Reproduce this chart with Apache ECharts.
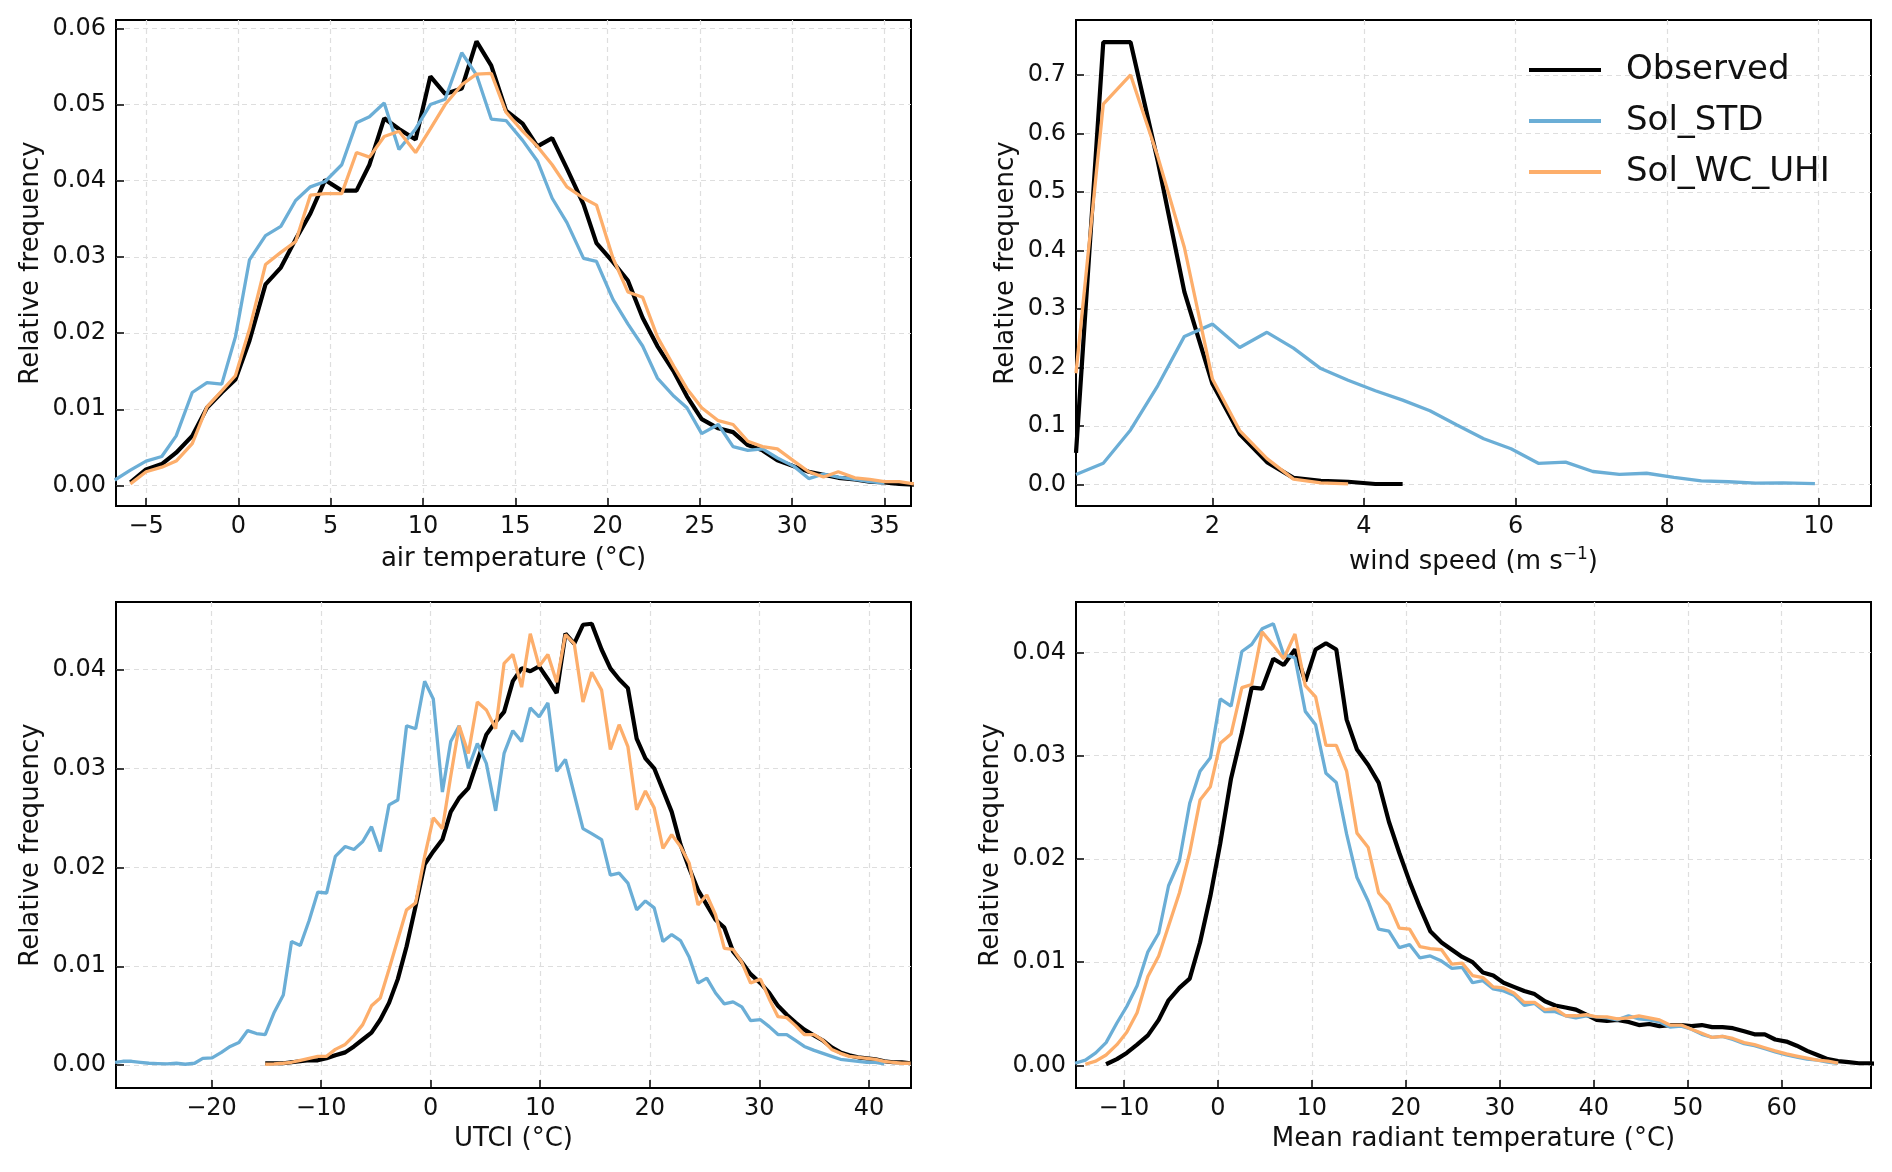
<!DOCTYPE html>
<html>
<head>
<meta charset="utf-8">
<script src="https://cdn.jsdelivr.net/npm/echarts@6/dist/echarts.min.js"></script>
<style>
  html, body { margin: 0; padding: 0; background: #fff; }
  #chart { width: 1892px; height: 1172px; }
</style>
</head>
<body>
<div id="chart"></div>
<script>
// air temperature histogram (bin centres, °C)
const airX = [-6.7, -5.85, -5.0, -4.15, -3.37, -2.5, -1.7, -0.9, -0.16, 0.6, 1.47, 2.3, 3.1, 3.9, 4.7, 5.6, 6.4, 7.1, 7.9, 8.7,
  9.6, 10.4, 11.2, 12.1, 12.9, 13.7, 14.5, 15.4, 16.2, 17.0, 17.8, 18.7, 19.4, 20.3, 21.1, 21.9, 22.7, 23.6, 24.3, 25.1,
  26.0, 26.8, 27.6, 28.4, 29.2, 30.1, 30.9, 31.7, 32.5, 33.4, 34.2, 35.0, 35.8, 36.6];
const airObs = [null, 0.0004, 0.0021, 0.0028, 0.0043, 0.0065, 0.0102, 0.0122, 0.0139, 0.019, 0.0264, 0.0286, 0.0323, 0.0357,
  0.0401, 0.0387, 0.0387, 0.0421, 0.0482, 0.0468, 0.0454, 0.0537, 0.0514, 0.0521, 0.0583, 0.0551, 0.0492, 0.0475, 0.0445,
  0.0456, 0.0416, 0.0369, 0.0318, 0.0293, 0.0269, 0.022, 0.0183, 0.0149, 0.0117, 0.0087, 0.0075, 0.007, 0.0053, 0.0046,
  0.0033, 0.0025, 0.0018, 0.0014, 0.001, 0.0008, 0.0005, 0.0004, 0.0002, 0.0001];
const airStd = [0.0007, 0.002, 0.0032, 0.0038, 0.0065, 0.0122, 0.0135, 0.0133, 0.0195, 0.0296, 0.0328, 0.034, 0.0374, 0.0392,
  0.0399, 0.0421, 0.0476, 0.0484, 0.0502, 0.0441, 0.0468, 0.05, 0.0507, 0.0568, 0.0539, 0.0481, 0.0479, 0.0453, 0.0426,
  0.0377, 0.0345, 0.0298, 0.0294, 0.0244, 0.0212, 0.0183, 0.0141, 0.0117, 0.0102, 0.0068, 0.008, 0.0051, 0.0046, 0.0048,
  0.0036, 0.0025, 0.0009, 0.0015, 0.0011, 0.0008, 0.0005, 0.0003, null, null];
const airWc = [null, 0.0002, 0.0018, 0.0024, 0.0032, 0.0055, 0.0103, 0.0124, 0.0144, 0.0205, 0.029, 0.0306, 0.032, 0.0381,
  0.0383, 0.0383, 0.0437, 0.0431, 0.0458, 0.0465, 0.0437, 0.0468, 0.05, 0.0526, 0.054, 0.0541, 0.049, 0.0465, 0.0445,
  0.0421, 0.0392, 0.0377, 0.0368, 0.0298, 0.0254, 0.0247, 0.0195, 0.0156, 0.0127, 0.0102, 0.0085, 0.008, 0.0058, 0.0051,
  0.0048, 0.0032, 0.0018, 0.0011, 0.0018, 0.001, 0.0008, 0.0005, 0.0005, 0.0002];

// wind speed (m/s)
const windX = [0.2, 0.56, 0.92, 1.28, 1.63, 2.0, 2.36, 2.72, 3.07, 3.43, 3.79, 4.15, 4.51, 4.87, 5.22, 5.58, 5.94, 6.3,
  6.66, 7.02, 7.37, 7.73, 8.09, 8.45, 8.81, 9.17, 9.53, 9.95];
const windObs = [0.054, 0.756, 0.756, 0.552, 0.329, 0.172, 0.086, 0.038, 0.011, 0.006, 0.0045, 0.0006, 0.0006];
const windStd = [0.017, 0.036, 0.093, 0.169, 0.253, 0.274, 0.234, 0.26, 0.233, 0.198, 0.178, 0.16, 0.144, 0.126, 0.102,
  0.078, 0.061, 0.036, 0.038, 0.022, 0.017, 0.019, 0.012, 0.006, 0.0045, 0.002, 0.0026, 0.0013];
const windWc = [0.19, 0.65, 0.70, 0.56, 0.405, 0.18, 0.092, 0.044, 0.009, 0.0026, 0.001];

// UTCI (°C)
const utciX = [-28.8, -28.1, -27.3, -26.5, -25.7, -24.9, -24.05, -23.2, -22.4, -21.55, -20.8, -19.95, -19.1, -18.3, -17.5,
  -16.7, -15.9, -15.1, -14.3, -13.45, -12.7, -11.9, -11.1, -10.3, -9.5, -8.7, -7.8, -7.0, -6.2, -5.4, -4.6, -3.8, -3.0,
  -2.2, -1.37, -0.55, 0.24, 1.07, 1.83, 2.6, 3.44, 4.26, 5.08, 5.93, 6.7, 7.5, 8.3, 9.09, 9.9, 10.7, 11.5, 12.3, 13.1,
  13.9, 14.7, 15.6, 16.4, 17.2, 18.0, 18.8, 19.6, 20.4, 21.2, 22.0, 22.8, 23.6, 24.4, 25.2, 26.0, 26.8, 27.6, 28.4, 29.2,
  30.1, 30.9, 31.7, 32.5, 33.3, 34.1, 35.0, 35.8, 36.6, 37.4, 38.2, 39.0, 39.8, 40.6, 41.4, 42.2, 43.0, 43.8];
const utciObs = [null, null, null, null, null, null, null, null, null, null, null, null, null, null, null, null, null,
  0.0002, 0.0002, 0.0002, 0.0003, 0.0004, 0.0005, 0.0005, 0.0007, 0.001, 0.0013, 0.0019, 0.0026, 0.0033, 0.0046, 0.0063,
  0.0087, 0.012, 0.0161, 0.0203, 0.0216, 0.0228, 0.0256, 0.027, 0.028, 0.0307, 0.0334, 0.0347, 0.0357, 0.0388,
  0.0401, 0.0398, 0.0403, 0.039, 0.0376, 0.0436, 0.0426, 0.0445, 0.0446, 0.042, 0.0401, 0.039, 0.0381, 0.033, 0.031,
  0.03, 0.0278, 0.0256, 0.0223, 0.0199, 0.0177, 0.0162, 0.0147, 0.0139, 0.0115, 0.0104, 0.0092, 0.0083, 0.0073, 0.006,
  0.0051, 0.0043, 0.0036, 0.003, 0.0025, 0.0018, 0.0013, 0.001, 0.0008, 0.0007, 0.0006, 0.0004, 0.0003, 0.0003, 0.0002];
const utciStd = [0.0003, 0.0004, 0.0004, 0.0003, 0.0002, 0.00017, 0.00013, 0.0002, 0.0001, 0.0002, 0.0007, 0.00074, 0.0013,
  0.0019, 0.0023, 0.0035, 0.0032, 0.0031, 0.0053, 0.0071, 0.0125, 0.0121, 0.0146, 0.0175, 0.0174, 0.0211, 0.0221, 0.0218,
  0.0226, 0.0241, 0.0216, 0.0263, 0.0268, 0.0343, 0.034, 0.0388, 0.037, 0.0276, 0.0327, 0.0343, 0.03, 0.0325, 0.0305,
  0.0257, 0.0315, 0.0338, 0.0327, 0.0361, 0.0352, 0.0366, 0.0297, 0.0309, 0.0274, 0.0239, 0.0234, 0.0228, 0.0192, 0.0194,
  0.0184, 0.0157, 0.0166, 0.0159, 0.0125, 0.0132, 0.0126, 0.0109, 0.0083, 0.0088, 0.0073, 0.0062, 0.0064, 0.0059, 0.0045,
  0.0046, 0.0039, 0.0031, 0.0031, 0.0025, 0.0019, 0.0015, 0.0012, 0.0009, 0.0006, 0.0005, 0.0004, 0.0003, 0.0003, 0.00013,
  null, null, null];
const utciWc = [null, null, null, null, null, null, null, null, null, null, null, null, null, null, null, null, null,
  0.0001, 0.00013, 0.0002, 0.0003, 0.0005, 0.0007, 0.0009, 0.0009, 0.0016, 0.0021, 0.003, 0.0041, 0.006, 0.0068, 0.0097,
  0.0127, 0.0157, 0.0164, 0.0211, 0.025, 0.0239, 0.0292, 0.0343, 0.0315, 0.0367, 0.0359, 0.034, 0.0406, 0.0415,
  0.0382, 0.0436, 0.0403, 0.0415, 0.0387, 0.0435, 0.0426, 0.0367, 0.0397, 0.0379, 0.0319, 0.0344, 0.0322, 0.0258, 0.0277,
  0.026, 0.0219, 0.0233, 0.0221, 0.0204, 0.0162, 0.0172, 0.0152, 0.0118, 0.0117, 0.0104, 0.0083, 0.0087, 0.0067, 0.0049,
  0.0048, 0.004, 0.0031, 0.0031, 0.0025, 0.0016, 0.0012, 0.0009, 0.0008, 0.0007, 0.0006, 0.0004, 0.0003, 0.0002, 0.0002];

// mean radiant temperature (°C)
const mrtX = [-15.2, -14.1, -13.0, -11.9, -10.75, -9.7, -8.6, -7.45, -6.3, -5.25, -4.1, -3.0, -1.9, -0.8, 0.25, 1.4, 2.55,
  3.6, 4.7, 5.9, 7.0, 8.2, 9.3, 10.4, 11.5, 12.6, 13.7, 14.8, 16.0, 17.1, 18.2, 19.3, 20.4, 21.5, 22.6, 23.8, 24.9, 26.0,
  27.1, 28.2, 29.3, 30.4, 31.5, 32.6, 33.7, 34.8, 35.9, 37.0, 38.1, 39.2, 40.3, 41.4, 42.5, 43.7, 44.8, 45.9, 47.0, 48.1,
  49.3, 50.4, 51.5, 52.6, 53.7, 54.8, 56.0, 57.1, 58.2, 59.3, 60.5, 61.6, 62.7, 63.8, 64.9, 66.0, 67.1, 68.2, 69.3, 70.4];
const mrtObs = [null, null, null, 0.0001, 0.0006, 0.0012, 0.002, 0.0029, 0.0044, 0.0063, 0.0075, 0.0084, 0.0119, 0.0164,
  0.0215, 0.0278, 0.0322, 0.0366, 0.0365, 0.0394, 0.0388, 0.0403, 0.0372, 0.0403, 0.0409, 0.0403, 0.0335, 0.0306, 0.0291,
  0.0274, 0.0236, 0.0206, 0.0178, 0.0153, 0.013, 0.0119, 0.0112, 0.0105, 0.01, 0.009, 0.0087, 0.008, 0.0076, 0.0072,
  0.0069, 0.0062, 0.0058, 0.0056, 0.0054, 0.0049, 0.0044, 0.0043, 0.0044, 0.0042, 0.0039, 0.004, 0.0038, 0.0039, 0.0039,
  0.0038, 0.0039, 0.0037, 0.0037, 0.0036, 0.0033, 0.003, 0.003, 0.0025, 0.0023, 0.0019, 0.0014, 0.001, 0.0006, 0.0004,
  0.0003, 0.0002, 0.0002, 0.0001];
const mrtStd = [0.0002, 0.0005, 0.0012, 0.0022, 0.0041, 0.0057, 0.0077, 0.011, 0.0128, 0.0174, 0.0198, 0.0254, 0.0285,
  0.0298, 0.0355, 0.0348, 0.0401, 0.0408, 0.0423, 0.0428, 0.0398, 0.0395, 0.0343, 0.033, 0.0283, 0.0274, 0.0224, 0.0182,
  0.0159, 0.0132, 0.013, 0.0114, 0.0117, 0.0104, 0.0106, 0.0101, 0.0094, 0.0095, 0.008, 0.0082, 0.0074, 0.0072, 0.0068,
  0.0058, 0.006, 0.0052, 0.0052, 0.0048, 0.0046, 0.0048, 0.0047, 0.0046, 0.0044, 0.0048, 0.0045, 0.0044, 0.0042, 0.0037,
  0.0038, 0.0035, 0.003, 0.0027, 0.0028, 0.0025, 0.0021, 0.0019, 0.0016, 0.0013, 0.001, 0.0008, 0.0006, 0.0005, 0.0003,
  0.0002, null, null, null, null];
const mrtWc = [null, 0.0001, 0.0004, 0.001, 0.002, 0.0032, 0.0051, 0.0086, 0.0106, 0.0135, 0.0167, 0.0206, 0.0257, 0.027,
  0.0312, 0.0321, 0.0366, 0.0369, 0.042, 0.0407, 0.0394, 0.0418, 0.0368, 0.0357, 0.031, 0.031, 0.0285, 0.0225, 0.0211,
  0.0167, 0.0156, 0.0133, 0.0132, 0.0115, 0.0113, 0.0112, 0.0098, 0.0099, 0.0087, 0.0085, 0.0076, 0.0075, 0.007, 0.0061,
  0.0061, 0.0054, 0.0055, 0.0048, 0.0048, 0.0049, 0.0047, 0.0047, 0.0045, 0.0046, 0.0048, 0.0046, 0.0044, 0.0039, 0.0039,
  0.0035, 0.0031, 0.0027, 0.0028, 0.0026, 0.0022, 0.002, 0.0017, 0.0014, 0.0011, 0.0009, 0.0007, 0.0005, 0.0004, 0.0002,
  null, null, null, null];

// tick positions
const airXTicks = [-5, 0, 5, 10, 15, 20, 25, 30, 35];
const airYTicks = [0, 0.01, 0.02, 0.03, 0.04, 0.05, 0.06];
const windXTicks = [2, 4, 6, 8, 10];
const windYTicks = [0, 0.1, 0.2, 0.3, 0.4, 0.5, 0.6, 0.7];
const utciXTicks = [-20, -10, 0, 10, 20, 30, 40];
const utciYTicks = [0, 0.01, 0.02, 0.03, 0.04];
const mrtXTicks = [-10, 0, 10, 20, 30, 40, 50, 60];
const mrtYTicks = [0, 0.01, 0.02, 0.03, 0.04];

const FONT = "DejaVu Sans";
const BLACK = "#000000";
const BLUE = "#6baed6";
const ORANGE = "#fdae6b";

function pairs(xs, ys) {
  const out = [];
  xs.forEach((x, i) => {
    if (ys[i] != null) out.push([x, ys[i]]);
  });
  return out;
}

const minus = (v) => String(v).replace("-", "\u2212");

const tickStyle = (ticks) => ({
  show: true, inside: true, length: 8, customValues: ticks, lineStyle: { color: "#000", width: 1.5 },
});
const gridLine = { show: true, lineStyle: { color: "#dedede", type: [5, 4], width: 1.2 } };

function xAxis(gridIndex, min, max, ticks, name, gap) {
  return {
    type: "value",
    gridIndex,
    min,
    max,
    name,
    nameLocation: "middle",
    nameGap: gap,
    nameTextStyle: {
      fontFamily: FONT, fontSize: 26, color: "#111",
      rich: { sup: { fontFamily: FONT, fontSize: 17, color: "#111", verticalAlign: "top", padding: [0, 0, 16, 0] } },
    },
    axisLine: { show: false, onZero: false },
    axisTick: tickStyle(ticks),
    axisLabel: { customValues: ticks, fontFamily: FONT, fontSize: 24, color: "#111", margin: 9, formatter: minus },
    splitLine: gridLine,
  };
}

function yAxis(gridIndex, min, max, ticks, digits, gap) {
  return {
    type: "value",
    gridIndex,
    min,
    max,
    name: "Relative frequency",
    nameLocation: "middle",
    nameRotate: 90,
    nameGap: gap,
    nameTextStyle: { fontFamily: FONT, fontSize: 26, color: "#111" },
    axisLine: { show: false, onZero: false },
    axisTick: tickStyle(ticks),
    axisLabel: {
      customValues: ticks, fontFamily: FONT, fontSize: 24, color: "#111", margin: 10,
      formatter: (v) => v.toFixed(digits),
    },
    splitLine: gridLine,
  };
}

function lines(idx, xs, obs, std, wc) {
  const base = { type: "line", xAxisIndex: idx, yAxisIndex: idx, showSymbol: false, symbol: "none", clip: true };
  return [
    { ...base, name: "Observed", data: pairs(xs, obs), color: BLACK, lineStyle: { color: BLACK, width: 4.2 }, z: 2 },
    { ...base, name: "Sol_STD", data: pairs(xs, std), color: BLUE, lineStyle: { color: BLUE, width: 3.3 }, z: 3 },
    { ...base, name: "Sol_WC_UHI", data: pairs(xs, wc), color: ORANGE, lineStyle: { color: ORANGE, width: 3.3 }, z: 4 },
  ];
}

const gridBox = { show: true, borderColor: "#000", borderWidth: 2, backgroundColor: "transparent" };

const chart = echarts.init(document.getElementById("chart"), null, { renderer: "canvas" });
chart.setOption({
  animation: false,
  backgroundColor: "#ffffff",
  grid: [
    { ...gridBox, left: 116, top: 20, width: 795, height: 486 },
    { ...gridBox, left: 1076, top: 20, width: 795, height: 486 },
    { ...gridBox, left: 116, top: 602, width: 795, height: 486 },
    { ...gridBox, left: 1076, top: 602, width: 795, height: 486 },
  ],
  xAxis: [
    xAxis(0, -6.63, 36.44, airXTicks, "air temperature (°C)", 40),
    xAxis(1, 0.2, 10.69, windXTicks, "wind speed (m s{sup|\u22121})", 40),
    xAxis(2, -28.72, 43.84, utciXTicks, "UTCI (°C)", 38),
    xAxis(3, -15.1, 69.5, mrtXTicks, "Mean radiant temperature (°C)", 38),
  ],
  yAxis: [
    yAxis(0, -0.0027, 0.0611, airYTicks, 2, 72),
    yAxis(1, -0.037, 0.794, windYTicks, 1, 57),
    yAxis(2, -0.0023, 0.0468, utciYTicks, 2, 72),
    yAxis(3, -0.0022, 0.0449, mrtYTicks, 2, 72),
  ],
  legend: {
    data: ["Observed", "Sol_STD", "Sol_WC_UHI"],
    orient: "vertical",
    left: 1524,
    top: 48,
    icon: "rect",
    itemWidth: 72,
    itemHeight: 4,
    itemGap: 17,
    textStyle: { fontFamily: FONT, fontSize: 34, color: "#111", padding: [0, 0, 0, 20] },
  },
  series: [
    ...lines(0, airX, airObs, airStd, airWc),
    ...lines(1, windX, windObs, windStd, windWc),
    ...lines(2, utciX, utciObs, utciStd, utciWc),
    ...lines(3, mrtX, mrtObs, mrtStd, mrtWc),
  ],
});
</script>
</body>
</html>
